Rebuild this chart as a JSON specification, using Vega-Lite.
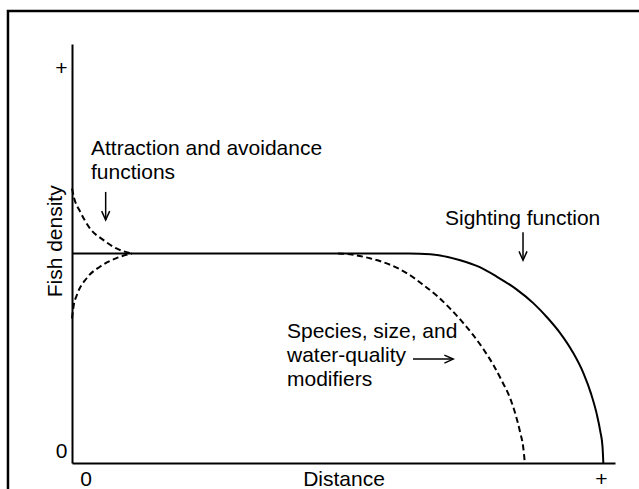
{
  "$schema": "https://vega.github.io/schema/vega-lite/v6.json",
  "width": 543,
  "height": 419,
  "autosize": "none",
  "padding": {"left": 72, "top": 44, "right": 24, "bottom": 26},
  "background": "white",
  "config": {"view": {"stroke": null}, "font": "Liberation Sans"},
  "datasets": {
    "curves": [
      {"curve": "sighting", "x": 0, "y": 50},
      {"curve": "sighting", "x": 62, "y": 50},
      {"curve": "sighting", "x": 66, "y": 49.8},
      {"curve": "sighting", "x": 71.5, "y": 48.4},
      {"curve": "sighting", "x": 75, "y": 46.8},
      {"curve": "sighting", "x": 78.2, "y": 44.5},
      {"curve": "sighting", "x": 81.8, "y": 41.5},
      {"curve": "sighting", "x": 85, "y": 38.1},
      {"curve": "sighting", "x": 87.6, "y": 34.6},
      {"curve": "sighting", "x": 89.9, "y": 31},
      {"curve": "sighting", "x": 92.2, "y": 26.5},
      {"curve": "sighting", "x": 94.2, "y": 21.4},
      {"curve": "sighting", "x": 95.6, "y": 16.5},
      {"curve": "sighting", "x": 96.6, "y": 11.9},
      {"curve": "sighting", "x": 97.3, "y": 7.5},
      {"curve": "sighting", "x": 97.7, "y": 3.9},
      {"curve": "sighting", "x": 97.85, "y": 0},
      {"curve": "modifier", "x": 49, "y": 50},
      {"curve": "modifier", "x": 51.2, "y": 49.8},
      {"curve": "modifier", "x": 55, "y": 48.8},
      {"curve": "modifier", "x": 58.6, "y": 47.3},
      {"curve": "modifier", "x": 61.8, "y": 45.2},
      {"curve": "modifier", "x": 64.7, "y": 42.5},
      {"curve": "modifier", "x": 67.3, "y": 39.8},
      {"curve": "modifier", "x": 69.6, "y": 36.9},
      {"curve": "modifier", "x": 71.8, "y": 33.8},
      {"curve": "modifier", "x": 73.9, "y": 30.5},
      {"curve": "modifier", "x": 75.8, "y": 27.1},
      {"curve": "modifier", "x": 77.6, "y": 23.4},
      {"curve": "modifier", "x": 79.2, "y": 19.5},
      {"curve": "modifier", "x": 80.7, "y": 15.4},
      {"curve": "modifier", "x": 81.7, "y": 11.5},
      {"curve": "modifier", "x": 82.5, "y": 7.5},
      {"curve": "modifier", "x": 83.1, "y": 3.7},
      {"curve": "modifier", "x": 83.4, "y": 0},
      {"curve": "attraction", "x": 0, "y": 65.5},
      {"curve": "attraction", "x": 0.4, "y": 63.2},
      {"curve": "attraction", "x": 1.5, "y": 60.0},
      {"curve": "attraction", "x": 3.3, "y": 56.0},
      {"curve": "attraction", "x": 5.8, "y": 53.2},
      {"curve": "attraction", "x": 8.2, "y": 51.2},
      {"curve": "attraction", "x": 11, "y": 50.0},
      {"curve": "avoidance", "x": 0, "y": 34.5},
      {"curve": "avoidance", "x": 0.3, "y": 37.5},
      {"curve": "avoidance", "x": 0.9, "y": 40.1},
      {"curve": "avoidance", "x": 2.7, "y": 44.1},
      {"curve": "avoidance", "x": 5.2, "y": 46.9},
      {"curve": "avoidance", "x": 8.2, "y": 48.9},
      {"curve": "avoidance", "x": 11, "y": 50.0}
    ],
    "notes": [
      {"x": 3.5, "y": 73.5, "text": "Attraction and avoidance\nfunctions"},
      {"x": 68.69, "y": 56.8, "text": "Sighting function"},
      {"x": 39.59, "y": 29.83, "text": "Species, size, and\nwater-quality\nmodifiers"}
    ],
    "downArrows": [
      {"x": 6.2, "y": 64.7, "y2": 58.0},
      {"x": 83.06, "y": 55.1, "y2": 48.4}
    ],
    "rightArrows": [
      {"x": 62.8, "x2": 70.2, "y": 24.8}
    ],
    "frame": [
      {"x": -11.79, "x2": 110, "y": 107.88, "y2": -10}
    ],
    "ytitle": [
      {"x": -1.84, "y": 52.9, "text": "Fish density"}
    ]
  },
  "encoding": {
    "x": {
      "field": "x",
      "type": "quantitative",
      "scale": {"domain": [0, 100], "nice": false, "zero": false},
      "axis": {
        "title": "Distance",
        "titleFontSize": 21,
        "titleFontWeight": "normal",
        "titleColor": "black",
        "titleFont": "Liberation Sans",
        "titleBaseline": "alphabetic",
        "titleY": 22,
        "values": [2.49, 97.42],
        "labelExpr": "datum.value < 50 ? '0' : '+'",
        "ticks": false,
        "tickSize": 0,
        "grid": false,
        "domainColor": "black",
        "domainWidth": 2,
        "labelFontSize": 21,
        "labelColor": "black",
        "labelFont": "Liberation Sans",
        "labelBaseline": "alphabetic",
        "labelPadding": 22,
        "labelFlush": false,
        "labelOverlap": false,
        "labelBound": false
      }
    },
    "y": {
      "field": "y",
      "type": "quantitative",
      "scale": {"domain": [0, 100], "nice": false, "zero": false},
      "axis": {
        "title": null,
        "values": [1.43, 92.84],
        "labelExpr": "datum.value < 50 ? '0' : '+'",
        "ticks": false,
        "tickSize": 0,
        "grid": false,
        "domainColor": "black",
        "domainWidth": 2,
        "labelFontSize": 21,
        "labelColor": "black",
        "labelFont": "Liberation Sans",
        "labelBaseline": "alphabetic",
        "labelPadding": 5,
        "labelFlush": false,
        "labelOverlap": false,
        "labelBound": false
      }
    }
  },
  "layer": [
    {
      "data": {"name": "frame"},
      "mark": {"type": "rect", "fill": "white", "fillOpacity": 0, "stroke": "black", "strokeWidth": 2.5, "clip": false},
      "encoding": {"x2": {"field": "x2"}, "y2": {"field": "y2"}}
    },
    {
      "data": {"name": "curves"},
      "transform": [{"filter": "datum.curve === 'sighting'"}],
      "mark": {"type": "line", "color": "black", "strokeWidth": 2, "interpolate": "monotone"},
      "encoding": {"detail": {"field": "curve"}}
    },
    {
      "data": {"name": "curves"},
      "transform": [{"filter": "datum.curve !== 'sighting'"}],
      "mark": {"type": "line", "color": "black", "strokeWidth": 2, "strokeDash": [6, 3.5], "interpolate": "monotone"},
      "encoding": {"detail": {"field": "curve"}}
    },
    {
      "data": {"name": "notes"},
      "mark": {"type": "text", "align": "left", "baseline": "alphabetic", "fontSize": 21, "font": "Liberation Sans", "color": "black", "lineBreak": "\n", "lineHeight": 24},
      "encoding": {"text": {"field": "text"}}
    },
    {
      "data": {"name": "ytitle"},
      "mark": {"type": "text", "align": "center", "baseline": "alphabetic", "angle": 270, "fontSize": 21, "font": "Liberation Sans", "color": "black"},
      "encoding": {"text": {"field": "text"}}
    },
    {
      "data": {"name": "downArrows"},
      "mark": {"type": "rule", "color": "black", "strokeWidth": 1.5},
      "encoding": {"y2": {"field": "y2"}}
    },
    {
      "data": {"name": "downArrows"},
      "mark": {"type": "point", "shape": "M-1,-2.2L0,0L1,-2.2", "size": 64, "filled": false, "stroke": "black", "strokeWidth": 1.5, "opacity": 1},
      "encoding": {"y": {"field": "y2", "type": "quantitative"}}
    },
    {
      "data": {"name": "rightArrows"},
      "mark": {"type": "rule", "color": "black", "strokeWidth": 1.5},
      "encoding": {"x2": {"field": "x2"}}
    },
    {
      "data": {"name": "rightArrows"},
      "mark": {"type": "point", "shape": "M-2.2,-1L0,0L-2.2,1", "size": 64, "filled": false, "stroke": "black", "strokeWidth": 1.5, "opacity": 1},
      "encoding": {"x": {"field": "x2", "type": "quantitative"}}
    }
  ]
}
